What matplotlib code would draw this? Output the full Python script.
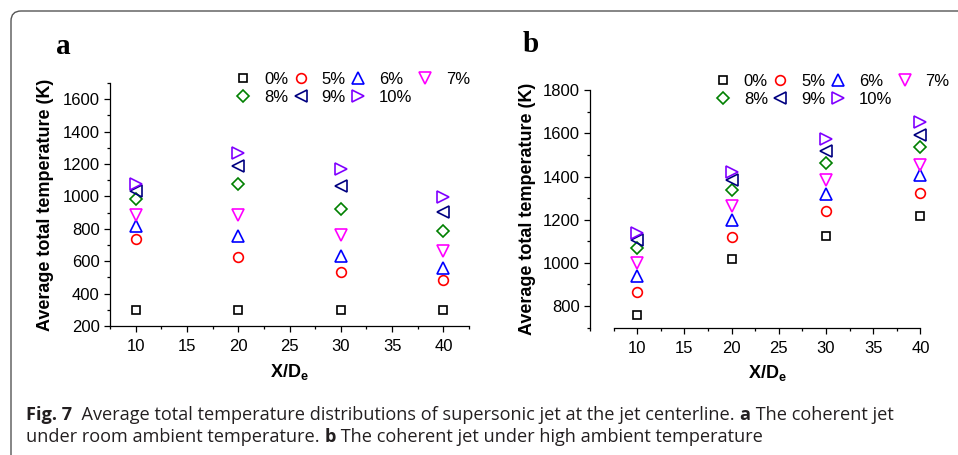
import matplotlib
matplotlib.use("Agg")
import matplotlib.pyplot as plt
from matplotlib.patches import FancyBboxPatch
from matplotlib.transforms import IdentityTransform
from matplotlib.ticker import MultipleLocator

plt.rcParams['font.family'] = ['Liberation Sans', 'DejaVu Sans']
plt.rcParams['mathtext.fontset'] = 'custom'
plt.rcParams['mathtext.bf'] = 'Liberation Sans:bold'
plt.rcParams['mathtext.rm'] = 'Liberation Sans'

# data
x_pos = [10, 20, 30, 40]
labels = ['0%', '5%', '6%', '7%', '8%', '9%', '10%']

room_0 = [300, 300, 300, 300]
room_5 = [735, 625, 535, 485]
room_6 = [818, 757, 632, 557]
room_7 = [888, 888, 760, 660]
room_8 = [985, 1075, 923, 785]
room_9 = [1035, 1190, 1065, 905]
room_10 = [1075, 1265, 1168, 997]

high_0 = [758, 1016, 1125, 1215]
high_5 = [865, 1120, 1239, 1326]
high_6 = [940, 1200, 1320, 1405]
high_7 = [998, 1263, 1383, 1455]
high_8 = [1068, 1340, 1464, 1538]
high_9 = [1108, 1383, 1520, 1592]
high_10 = [1136, 1422, 1574, 1651]

room = [room_0, room_5, room_6, room_7, room_8, room_9, room_10]
high = [high_0, high_5, high_6, high_7, high_8, high_9, high_10]

markers = ['s', 'o', '^', 'v', 'D', '<', '>']
sizes = [6.0, 7.0, 8.5, 8.5, 6.5, 8.5, 8.5]
colors = ['black', '#ff0000', '#0000ff', '#ff00ff', '#008000', '#000080', '#8000ff']


def draw_panel(ax, series, ylim, yticks, legend_anchor, right_end, ylab_x):
    handles = []
    for vals, m, ms, c, lab in zip(series, markers, sizes, colors, labels):
        h, = ax.plot(x_pos, vals, linestyle='none', marker=m, markersize=ms,
                     markerfacecolor='none', markeredgecolor=c, markeredgewidth=1.2,
                     label=lab, clip_on=False)
        handles.append(h)
    ax.set_xlim(7.5, 42.5)
    ax.set_ylim(*ylim)
    ax.set_xticks([10, 15, 20, 25, 30, 35, 40])
    ax.xaxis.set_minor_locator(MultipleLocator(2.5))
    ax.set_yticks(yticks)
    ax.yaxis.set_minor_locator(MultipleLocator(100))
    ax.spines['top'].set_visible(False)
    ax.spines['right'].set_visible(False)
    ax.spines['bottom'].set_bounds(7.5, right_end)
    for s in ('left', 'bottom'):
        ax.spines[s].set_linewidth(0.9)
    ax.tick_params(which='major', length=4, width=0.9, labelsize=12, direction='out')
    ax.tick_params(axis='x', which='major', pad=5.5)
    ax.tick_params(which='minor', length=2.5, width=0.9, direction='out')
    if right_end < 42.5:
        ax.set_xticks([t for t in ax.get_xticks(minor=True) if t <= right_end], minor=True)
    ax.set_ylabel('Average total temperature (K)', fontsize=13, fontweight='bold')
    ax.set_xlabel(r'$\mathbf{X/D_e}$', fontsize=13)
    ax.yaxis.set_label_coords(ylab_x, 0.5)
    ax.xaxis.set_label_coords(0.5, -0.15)
    # legend laid out row by row like the original
    order = [0, 4, 1, 5, 2, 6, 3]
    ax.legend([handles[i] for i in order], [labels[i] for i in order], ncol=4,
              frameon=False, fontsize=12, loc='upper left',
              bbox_to_anchor=legend_anchor, bbox_transform=fig.transFigure,
              borderpad=0, borderaxespad=0, handlelength=1.0, handletextpad=0.75,
              columnspacing=0.25, labelspacing=0.2)


fig = plt.figure(figsize=(9.58, 4.55), dpi=100)
ax_a = fig.add_axes([0.1148, 0.2835, 0.3748, 0.5341])
ax_b = fig.add_axes([0.6159, 0.2802, 0.3695, 0.5213])

draw_panel(ax_a, room, (200, 1700), range(200, 1601, 200), (0.245, 0.842), 42.5, -0.157)
draw_panel(ax_b, high, (700, 1800), range(800, 1801, 200), (0.746, 0.838), 40, -0.152)

fig.text(63 / 958, 1 - 46 / 455, 'a', family='Liberation Serif', fontweight='bold',
         fontsize=21, ha='center', va='center')
fig.text(531 / 958, 1 - 45 / 455, 'b', family='Liberation Serif', fontweight='bold',
         fontsize=21, ha='center', va='center')

# caption with bold fragments
cap_font = 'Open Sans'
cap_size = 13.1
cap_color = '#231f20'


def chain_texts(pieces, x, y):
    texts = []
    for txt, weight in pieces:
        texts.append(fig.text(x, y, txt, family=cap_font, fontsize=cap_size,
                              fontweight=weight, color=cap_color, va='baseline'))
    fig.canvas.draw()
    r = fig.canvas.get_renderer()
    cur = x
    for t in texts:
        t.set_x(cur)
        bb = t.get_window_extent(renderer=r)
        cur += bb.width / fig.bbox.width


chain_texts([('Fig. 7', 'bold'),
             ('  Average total temperature distributions of supersonic jet at the jet centerline. ', 'normal'),
             ('a', 'bold'), (' The coherent jet', 'normal')],
            26 / 958, 1 - 420 / 455)
chain_texts([('under room ambient temperature. ', 'normal'), ('b', 'bold'),
             (' The coherent jet under high ambient temperature', 'normal')],
            26 / 958, 1 - 442 / 455)

# rounded frame around the figure panel
frame = FancyBboxPatch((11, -60), 1200, 455 - 11 + 60, boxstyle='round,pad=0,rounding_size=10',
                       transform=IdentityTransform(), facecolor='none', edgecolor='#555555',
                       linewidth=1.0)
fig.patches.append(frame)

fig.savefig('out.png', dpi=100)
